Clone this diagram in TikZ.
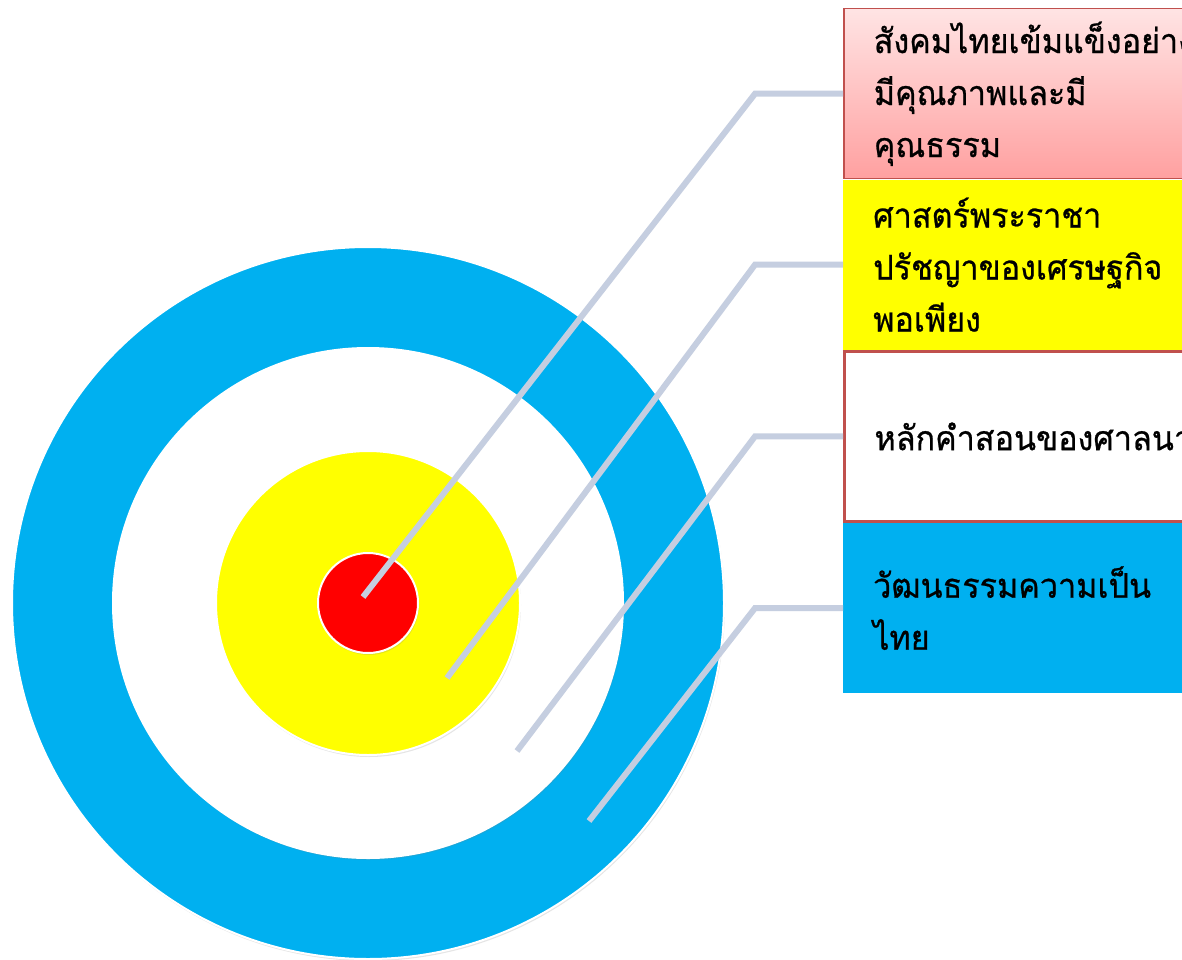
\documentclass[tikz,border=0pt]{standalone}
\usepackage{fontspec}
\newfontfamily\thaifont[Script=Thai, FakeBold=0.7, FakeStretch=0.95]{Loma}
\usetikzlibrary{positioning,shadows}
\definecolor{ringblue}{HTML}{00B0F0}
\definecolor{ringyellow}{HTML}{FFFF00}
\definecolor{ringred}{HTML}{FF0000}
\definecolor{boxedge}{HTML}{C0504D}
\definecolor{pinktop}{HTML}{FFE4E4}
\definecolor{pinkbot}{HTML}{FFA0A0}
\definecolor{connline}{HTML}{C5CEE0}

\begin{document}
\begin{tikzpicture}[
  x=1pt, y=-1pt,
  ring/.style={circle, draw=white, line width=2pt, inner sep=0pt, drop shadow={opacity=0.2, shadow xshift=1pt, shadow yshift=-2pt}},
  label box/.style={rectangle, anchor=north west, minimum width=360pt, minimum height=170pt, text width=300pt, inner xsep=29pt, align=left, font=\thaifont\fontsize{34}{52}\selectfont},
  conn/.style={connline, line width=6pt},
]
\useasboundingbox (0,0) rectangle (1182,960);
\clip (0,0) rectangle (1182,960);
\fill[white] (0,0) rectangle (1182,960);

% target rings
\node[ring, fill=ringblue, minimum size=712pt] (outer) at (368,603) {};
\node[ring, fill=white, minimum size=510pt] (middle) at (368,603) {};
\node[ring, fill=ringyellow, minimum size=304pt] (inner) at (368,603) {};
\node[ring, fill=ringred, minimum size=100pt] (core) at (368,603) {};

% label boxes
\node[label box, top color=pinktop, bottom color=pinkbot, draw=boxedge, line width=1.5pt] (society) at (843,8) {สังคมไทยเข้มแข็งอย่าง\\มีคุณภาพและมี\\คุณธรรม};
\node[label box, fill=ringyellow, below=0pt of society.south west, anchor=north west] (sufficiency) {ศาสตร์พระราชา\\ปรัชญาของเศรษฐกิจ\\พอเพียง};
\node[label box, fill=white, draw=boxedge, line width=3pt, below=0pt of sufficiency.south west, anchor=north west] (religion) {หลักคำสอนของศาลนา};
\node[label box, fill=ringblue, below=0pt of religion.south west, anchor=north west] (culture) {วัฒนธรรมความเป็น\\ไทย};

% connector tips inside the rings
\coordinate (tip1) at (363,597);
\coordinate (tip2) at (447,678);
\coordinate (tip3) at (517,751);
\coordinate (tip4) at (589,821);

\draw[conn] (society.west) -- ++(-88,0) -- (tip1);
\draw[conn] (sufficiency.west) -- ++(-88,0) -- (tip2);
\draw[conn] (religion.west) -- ++(-88,0) -- (tip3);
\draw[conn] (culture.west) -- ++(-88,0) -- (tip4);
\end{tikzpicture}
\end{document}
